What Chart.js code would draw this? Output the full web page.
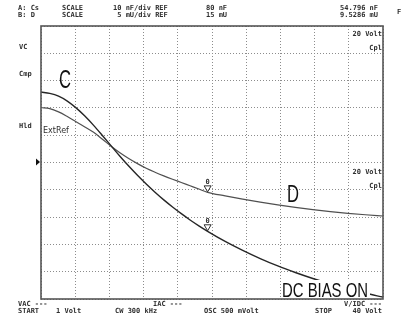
<!DOCTYPE html>
<html>
<head>
<meta charset="utf-8">
<script src="https://cdn.jsdelivr.net/npm/chart.js@4.4.1/dist/chart.umd.min.js"></script>
<style>
  html, body { margin: 0; padding: 0; background: #fff; }
  #wrap { width: 402px; height: 314px; }
</style>
</head>
<body>
<div id="wrap"><canvas id="scope" width="402" height="314"></canvas></div>
<script>
  // DC bias sweep, 1 V .. 40 V
  const biasVolts = [1, 2, 3, 4, 5, 6, 7, 8, 9, 10, 11, 12, 13, 14, 15, 16, 17, 18, 19, 20,
    22, 24, 26, 28, 30, 32, 34, 36, 38, 40];
  // trace A: Cs in nF
  const capNf = [105.8, 105.3, 104.3, 102.5, 100.0, 97.0, 93.6, 89.9, 86.1, 82.3, 78.7, 75.3, 72.1,
    69.1, 66.3, 63.7, 61.25, 58.95, 56.8, 54.8,
    51.1, 47.8, 44.8, 42.1, 39.7, 37.5, 35.5, 33.7, 32.1, 30.7];
  // trace B: D in mU
  const dissMu = [25.07, 24.87, 24.27, 23.42, 22.47, 21.52, 20.52, 19.27, 17.97, 16.77, 15.72, 14.79,
    13.94, 13.22, 12.56, 11.94, 11.34, 10.74, 10.14, 9.53,
    8.88, 8.28, 7.73, 7.23, 6.78, 6.38, 6.02, 5.70, 5.43, 5.20];

  const startVolt = 1;
  const stopVolt = 40;
  const markerVolt = 20;
  const markerCs = '54.796';
  const markerD = '9.5286';
  const capRef = 80, capPerDiv = 10;
  const dissRef = 15, dissPerDiv = 5;
  const divisions = 10;

  const STRETCH = 1.0;
  const INK = '#2e2e2e';

  function monoText(ctx, str, x, y, align) {
    ctx.save();
    ctx.font = 'bold 7px "DejaVu Sans Mono", monospace';
    const w = ctx.measureText(str).width * STRETCH;
    const left = align === 'right' ? x - w : x;
    ctx.translate(left, y);
    ctx.scale(STRETCH, 1);
    ctx.textAlign = 'left';
    ctx.textBaseline = 'alphabetic';
    ctx.fillStyle = INK;
    ctx.fillText(str, 0, 0);
    ctx.restore();
  }

  function fitText(ctx, str, x, y, size, width) {
    ctx.save();
    ctx.font = `${size}px "Liberation Sans Narrow", "Liberation Sans", sans-serif`;
    const sx = width / ctx.measureText(str).width;
    ctx.translate(x, y);
    ctx.scale(sx, 1);
    ctx.textAlign = 'left';
    ctx.textBaseline = 'alphabetic';
    ctx.fillStyle = '#111';
    ctx.fillText(str, 0, 0);
    ctx.restore();
  }

  function divTicks(min, max) {
    const out = [];
    for (let i = 0; i <= divisions; i++) {
      out.push({ value: min + (max - min) * i / divisions });
    }
    return out;
  }

  function drawMarker(ctx, x, y) {
    ctx.save();
    ctx.strokeStyle = INK;
    ctx.lineWidth = 1;
    ctx.beginPath();
    ctx.moveTo(x - 3.5, y - 6.5);
    ctx.lineTo(x + 3.5, y - 6.5);
    ctx.lineTo(x, y - 0.5);
    ctx.closePath();
    ctx.stroke();
    ctx.restore();
    monoText(ctx, '0', x - 2, y - 8);
  }

  const decor = {
    id: 'decor',
    afterDatasetsDraw(chart) {
      const { ctx, chartArea: a, scales } = chart;
      const mi = biasVolts.indexOf(markerVolt);
      const mx = scales.x.getPixelForValue(markerVolt);
      drawMarker(ctx, mx, scales.yD.getPixelForValue(dissMu[mi]));
      drawMarker(ctx, mx, scales.yC.getPixelForValue(capNf[mi]));

      // label box over the trace
      ctx.fillStyle = '#fff';
      ctx.fillRect(281, 280, 89, 18);
      fitText(ctx, 'DC BIAS ON', 282, 297, 21, 86);
      fitText(ctx, 'C', 59, 88, 25, 12);
      fitText(ctx, 'D', 287, 202, 24, 12);

      // frame
      ctx.save();
      ctx.strokeStyle = '#555';
      ctx.lineWidth = 1.6;
      ctx.strokeRect(a.left, a.top, a.right - a.left, a.bottom - a.top);
      ctx.restore();

      // header
      monoText(ctx, 'A: Cs', 18, 10);
      monoText(ctx, 'B: D', 18, 17);
      monoText(ctx, 'SCALE', 62, 10);
      monoText(ctx, 'SCALE', 62, 17);
      monoText(ctx, `${capPerDiv} nF/div REF`, 113, 10);
      monoText(ctx, ` ${dissPerDiv} mU/div REF`, 113, 17);
      monoText(ctx, `${capRef} nF`, 206, 10);
      monoText(ctx, `${dissRef} mU`, 206, 17);
      monoText(ctx, `${markerCs} nF`, 378, 10, 'right');
      monoText(ctx, `${markerD} mU`, 378, 17, 'right');
      monoText(ctx, 'F', 397, 14);

      // left soft keys
      monoText(ctx, 'VC', 19, 49);
      monoText(ctx, 'Cmp', 19, 76);
      monoText(ctx, 'Hld', 19, 128);
      ctx.fillStyle = '#111';
      ctx.beginPath();
      ctx.moveTo(36, 158.5);
      ctx.lineTo(40, 162);
      ctx.lineTo(36, 165.5);
      ctx.closePath();
      ctx.fill();

      ctx.save();
      ctx.font = '8px "DejaVu Sans", sans-serif';
      ctx.fillStyle = INK;
      ctx.fillText('ExtRef', 43, 133);
      ctx.restore();

      // marker readouts inside the grid
      monoText(ctx, `${markerVolt} Volt`, 382, 36, 'right');
      monoText(ctx, 'Cpl', 382, 50, 'right');
      monoText(ctx, `${markerVolt} Volt`, 382, 174, 'right');
      monoText(ctx, 'Cpl', 382, 188, 'right');

      // footer
      monoText(ctx, 'VAC ---', 18, 306);
      monoText(ctx, 'IAC ---', 153, 306);
      monoText(ctx, 'V/IDC ---', 382, 306, 'right');
      monoText(ctx, 'START', 18, 312.5);
      monoText(ctx, `${startVolt} Volt`, 56, 312.5);
      monoText(ctx, 'CW 300 kHz', 115, 312.5);
      monoText(ctx, 'OSC 500 mVolt', 204, 312.5);
      monoText(ctx, 'STOP', 315, 312.5);
      monoText(ctx, `${stopVolt} Volt`, 382, 312.5, 'right');
    }
  };

  const gridOpts = {
    color: '#8c8c8c',
    lineWidth: 1,
    drawTicks: false
  };

  new Chart(document.getElementById('scope'), {
    type: 'line',
    data: {
      datasets: [
        {
          label: 'Cs',
          data: biasVolts.map((v, i) => ({ x: v, y: capNf[i] })),
          yAxisID: 'yC',
          borderColor: '#262626',
          borderWidth: 1.4,
          pointRadius: 0,
          cubicInterpolationMode: 'monotone'
        },
        {
          label: 'D',
          data: biasVolts.map((v, i) => ({ x: v, y: dissMu[i] })),
          yAxisID: 'yD',
          borderColor: '#505050',
          borderWidth: 1.2,
          pointRadius: 0,
          cubicInterpolationMode: 'monotone'
        }
      ]
    },
    options: {
      responsive: false,
      animation: false,
      layout: { padding: { left: 41, top: 26, right: 19, bottom: 15 } },
      plugins: {
        legend: { display: false },
        tooltip: { enabled: false }
      },
      scales: {
        x: {
          type: 'linear',
          min: startVolt,
          max: stopVolt,
          ticks: { display: false },
          grid: gridOpts,
          border: { display: false, dash: [1, 2] },
          afterBuildTicks: (axis) => { axis.ticks = divTicks(startVolt, stopVolt); }
        },
        yC: {
          position: 'left',
          min: capRef - capPerDiv * divisions / 2,
          max: capRef + capPerDiv * divisions / 2,
          ticks: { display: false },
          grid: gridOpts,
          border: { display: false, dash: [1, 2] },
          afterBuildTicks: (axis) => { axis.ticks = divTicks(axis.min, axis.max); }
        },
        yD: {
          display: false,
          min: dissRef - dissPerDiv * divisions / 2,
          max: dissRef + dissPerDiv * divisions / 2
        }
      }
    },
    plugins: [decor]
  });
</script>
</body>
</html>
